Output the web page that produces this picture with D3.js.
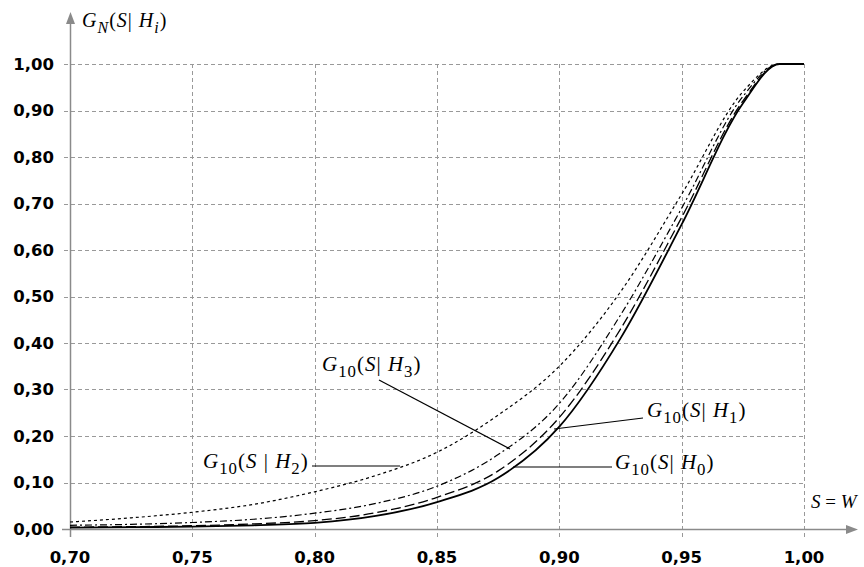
<!DOCTYPE html>
<html>
<head>
<meta charset="utf-8">
<script src="https://cdn.jsdelivr.net/npm/d3@7"></script>
<style>
  body { margin: 0; background: #fff; }
  svg { display: block; }
</style>
</head>
<body>
<div id="chart"></div>
<script>
// S values and the four distribution curves
var sValues = [0.70, 0.725, 0.75, 0.775, 0.80, 0.825, 0.85, 0.875, 0.90, 0.925, 0.95, 0.975, 0.99, 1.00];
var gH0 = [0.003, 0.004, 0.005, 0.008, 0.013, 0.028, 0.058, 0.11, 0.22, 0.41, 0.655, 0.915, 1.0, 1.0];
var gH1 = [0.004, 0.005, 0.007, 0.011, 0.018, 0.035, 0.068, 0.125, 0.24, 0.43, 0.67, 0.92, 1.0, 1.0];
var gH3 = [0.008, 0.010, 0.014, 0.021, 0.034, 0.055, 0.092, 0.16, 0.27, 0.46, 0.69, 0.93, 1.0, 1.0];
var gH2 = [0.015, 0.024, 0.036, 0.053, 0.08, 0.115, 0.165, 0.245, 0.35, 0.51, 0.72, 0.94, 1.0, 1.0];

var xTicks = [0.70, 0.75, 0.80, 0.85, 0.90, 0.95, 1.00];
var yTicks = [0, 0.1, 0.2, 0.3, 0.4, 0.5, 0.6, 0.7, 0.8, 0.9, 1.0];

var svgwidth = 864, svgheight = 567;
var svg = d3.select("#chart").append("svg").attr("width", svgwidth).attr("height", svgheight);

var xScale = d3.scaleLinear().domain([0.70, 1.00]).range([70, 804]);
var yScale = d3.scaleLinear().domain([0, 1]).range([529, 64]);
var fmt = function(v) { return d3.format(".2f")(v).replace(".", ","); };

// grid
var grid = svg.append("g").attr("stroke", "#999").attr("stroke-width", 1).attr("stroke-dasharray", "4,3").attr("fill", "none");
grid.selectAll("line.h").data(yTicks.slice(1)).enter().append("line")
    .attr("x1", 64).attr("x2", xScale(1.0))
    .attr("y1", d => Math.round(yScale(d)) + 0.5).attr("y2", d => Math.round(yScale(d)) + 0.5);
grid.selectAll("line.v").data(xTicks.slice(1)).enter().append("line")
    .attr("y1", yScale(1.0)).attr("y2", 537)
    .attr("x1", d => Math.round(xScale(d)) + 0.5).attr("x2", d => Math.round(xScale(d)) + 0.5);

// axes with arrows
var axisCol = "#8a8a8a";
svg.append("line").attr("x1", 62).attr("x2", 848).attr("y1", 529.5).attr("y2", 529.5).attr("stroke", axisCol).attr("stroke-width", 1.5);
svg.append("path").attr("d", "M858,529.5 L846,525 L846,534 Z").attr("fill", axisCol);
svg.append("line").attr("x1", 70.5).attr("x2", 70.5).attr("y1", 537).attr("y2", 22).attr("stroke", axisCol).attr("stroke-width", 1.5);
svg.append("path").attr("d", "M70.5,12 L66,24 L75,24 Z").attr("fill", axisCol);

// tick labels
svg.selectAll("text.ylab").data(yTicks).enter().append("text")
    .attr("x", 54).attr("y", d => yScale(d)).attr("dy", "0.36em")
    .attr("text-anchor", "end").attr("font-family", "DejaVu Sans").attr("font-weight", "bold")
    .attr("font-size", 16.5).attr("fill", "#000").text(fmt);
svg.selectAll("text.xlab").data(xTicks).enter().append("text")
    .attr("x", d => xScale(d)).attr("y", 557).attr("dy", "0.36em")
    .attr("text-anchor", "middle").attr("font-family", "DejaVu Sans").attr("font-weight", "bold")
    .attr("font-size", 16.5).attr("fill", "#000").text(fmt);

// curves
var series = [
  { vals: gH0, dash: null, w: 1.8 },
  { vals: gH1, dash: "10,4", w: 1.3 },
  { vals: gH3, dash: "7,3,2,3", w: 1.2 },
  { vals: gH2, dash: "3,3", w: 1.2 }
];
var line = d3.line().x(d => xScale(d[0])).y(d => yScale(d[1])).curve(d3.curveMonotoneX);
series.forEach(function(s) {
  svg.append("path").datum(sValues.map((v, i) => [v, s.vals[i]]))
     .attr("d", line).attr("fill", "none").attr("stroke", "#000")
     .attr("stroke-width", s.w).attr("stroke-dasharray", s.dash);
});

// math labels
function mathLabel(x, y, sub1, sub2, size, gapBar, italicSubs) {
  var t = svg.append("text").attr("x", x).attr("y", y)
      .attr("font-family", "Liberation Serif").attr("font-size", size)
      .attr("letter-spacing", 1).attr("fill", "#000");
  t.append("tspan").attr("font-style", "italic").text("G");
  t.append("tspan").attr("font-size", size * 0.8).attr("dy", size * 0.3)
   .attr("font-style", italicSubs ? "italic" : null).text(sub1);
  t.append("tspan").attr("dy", -size * 0.3).text("(");
  t.append("tspan").attr("font-style", "italic").text("S");
  t.append("tspan").text(gapBar ? " | " : "| ");
  t.append("tspan").attr("font-style", "italic").text("H");
  t.append("tspan").attr("font-size", size * 0.8).attr("dy", size * 0.3)
   .attr("font-style", italicSubs ? "italic" : null).text(sub2);
  t.append("tspan").attr("dy", -size * 0.3).text(")");
  return t;
}
mathLabel(82, 27, "N", "i", 20, false, true);
mathLabel(203, 468, "10", "2", 21, true, false);
mathLabel(322, 371, "10", "3", 21, false, false);
mathLabel(647, 417, "10", "1", 21, false, false);
mathLabel(615, 469, "10", "0", 21, false, false);

var sw = svg.append("text").attr("x", 811).attr("y", 508)
    .attr("font-family", "Liberation Serif").attr("font-size", 19).attr("fill", "#000");
sw.append("tspan").attr("font-style", "italic").text("S");
sw.append("tspan").text(" = ");
sw.append("tspan").attr("font-style", "italic").text("W");

// leader lines
var leaders = [
  [[312, 466], [400, 466]],
  [[379, 380], [510, 449]],
  [[554, 429], [643, 418]],
  [[513, 467], [612, 467]]
];
leaders.forEach(function(l) {
  svg.append("line").attr("x1", l[0][0]).attr("y1", l[0][1]).attr("x2", l[1][0]).attr("y2", l[1][1])
     .attr("stroke", "#000").attr("stroke-width", 1.2);
});
</script>
</body>
</html>
